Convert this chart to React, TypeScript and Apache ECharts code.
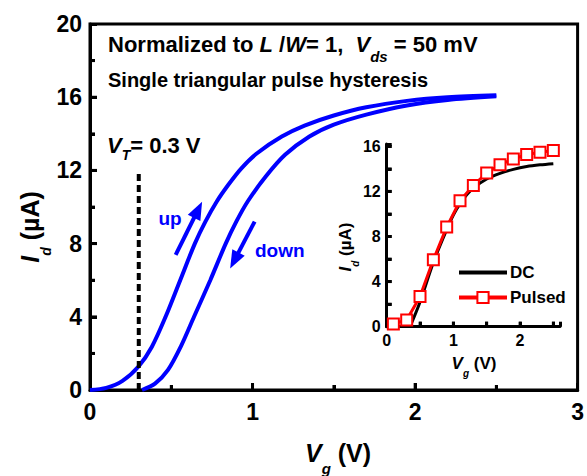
import React, { useEffect, useRef } from 'react';
import * as echarts from 'echarts';

// Main chart: single triangular pulse hysteresis (Vg in V, Id in uA)
const upVg = [0, 0.1, 0.2, 0.3, 0.38, 0.465, 0.555, 0.645, 0.71, 0.78, 0.85, 0.93, 1.03, 1.18, 1.32, 1.5, 1.7, 1.95, 2.2, 2.5];
const upId = [0, 0.12, 0.5, 1.3, 2.35, 4.0, 6.0, 8.0, 9.2, 10.3, 11.2, 12.1, 12.95, 13.85, 14.45, 15.0, 15.45, 15.8, 16.0, 16.1];
const downVg = [0.32, 0.4, 0.48, 0.56, 0.64, 0.74, 0.835, 0.9, 0.97, 1.08, 1.2, 1.35, 1.5, 1.7, 1.95, 2.2, 2.5];
const downId = [0, 0.35, 1.1, 2.4, 4.0, 6.0, 8.0, 9.2, 10.3, 11.65, 12.85, 13.85, 14.5, 15.05, 15.55, 15.85, 16.05];
const vtLine = [[0.3, 0], [0.3, 12]];
const upArrow = [[0.527, 7.38], [0.665, 9.85]];
const downArrow = [[1.013, 9.2], [0.888, 7.08]];

// Inset: DC vs pulsed
const dcVg = [0.35, 0.5, 0.7, 0.9, 1.0, 1.1, 1.2, 1.3, 1.5, 1.7, 1.9, 2.1, 2.3, 2.5];
const dcId = [0, 2.2, 5.7, 8.6, 9.9, 10.9, 11.7, 12.3, 13.1, 13.6, 13.95, 14.2, 14.35, 14.45];
const pulsedVg = [0.1, 0.3, 0.5, 0.7, 0.9, 1.1, 1.3, 1.5, 1.7, 1.9, 2.1, 2.3, 2.5];
const pulsedId = [0.25, 0.6, 2.67, 5.93, 8.83, 11.17, 12.53, 13.63, 14.37, 14.88, 15.26, 15.47, 15.62];

// Tick positions
const mainXMajor = [1, 2];
const mainXMinor = [0.5, 1.5, 2.5];
const mainYMajor = [4, 8, 12, 16];
const mainYMinor = [2, 6, 10, 14, 18];
const insetXTicks = [0.5, 1, 1.5, 2, 2.5];
const insetYTicks = [2, 4, 6, 8, 10, 12, 14, 16];

const FONT = 'Liberation Sans, Arial, Helvetica, sans-serif';
const BLUE = '#0000ff';
const RED = '#ff0000';

const zip = (a: number[], b: number[]) => a.map((v, i) => [v, b[i]]);

function tickSeries(values: number[], dir: 'x' | 'y', len: number, axisIdx: number) {
  return {
    type: 'scatter',
    xAxisIndex: axisIdx,
    yAxisIndex: axisIdx,
    data: values.map((v) => (dir === 'x' ? [v, 0] : [0, v])),
    symbol: 'rect',
    symbolSize: dir === 'x' ? [3, len] : [len, 3],
    symbolOffset: dir === 'x' ? [0, -len / 2] : [len / 2, 0],
    itemStyle: { color: '#000' },
    clip: false,
    silent: true,
    z: 6,
  };
}

function buildOption(): any {
  const mainTick = { show: true, inside: true, length: 7, lineStyle: { color: '#000', width: 3 } };
  const mainMinor = { show: true, splitNumber: 2, length: 5, lineStyle: { color: '#000', width: 3 } };
  const insetTick = { show: true, inside: true, length: 5, lineStyle: { color: '#000', width: 3 } };
  const axisLine = { show: true, onZero: false, lineStyle: { color: '#000', width: 3 } };
  const rich = (size: number, sub: number, lh: number) => ({
    n: { fontSize: size, fontWeight: 'bold', fontFamily: FONT, lineHeight: lh },
    i: { fontSize: size, fontWeight: 'bold', fontStyle: 'italic', fontFamily: FONT, lineHeight: lh },
    s: { fontSize: sub, fontWeight: 'bold', fontStyle: 'italic', fontFamily: FONT, lineHeight: sub, verticalAlign: 'bottom' },
  });
  const txt = (x: number, y: number, text: string, r: any, opts: any = {}) => ({
    type: 'text',
    x,
    y,
    rotation: opts.rotation || 0,
    style: {
      text,
      x: 0,
      y: 0,
      fill: opts.fill || '#000',
      align: opts.align || 'left',
      textAlign: opts.align || 'left',
      verticalAlign: 'middle',
      textVerticalAlign: 'middle',
      rich: r,
      font: `bold ${opts.size || 20}px ${FONT}`,
    },
  });
  const intLabel = (step: number) => (v: number) =>
    Math.abs(v / step - Math.round(v / step)) < 1e-6 ? String(Math.round(v)) : '';

  return {
    animation: false,
    grid: [
      { left: 90, right: 4, top: 24, bottom: 86, show: true, borderColor: '#000', borderWidth: 3 },
      { left: 386.7, right: 27, top: 144, bottom: 149.3 },
    ],
    xAxis: [
      {
        gridIndex: 0, type: 'value', min: 0, max: 3, interval: 1,
        axisLine, axisTick: mainTick, minorTick: mainMinor,
        splitLine: { show: false }, minorSplitLine: { show: false },
        axisLabel: { color: '#000', fontSize: 23, fontWeight: 'bold', fontFamily: FONT, margin: 10 },
      },
      {
        gridIndex: 1, type: 'value', min: 0, max: 2.6, interval: 0.5,
        axisLine, axisTick: insetTick, splitLine: { show: false },
        axisLabel: { color: '#000', fontSize: 16, fontWeight: 'bold', fontFamily: FONT, margin: 6, formatter: intLabel(1) },
      },
    ],
    yAxis: [
      {
        gridIndex: 0, type: 'value', min: 0, max: 20, interval: 4,
        axisLine, axisTick: mainTick, minorTick: mainMinor,
        splitLine: { show: false }, minorSplitLine: { show: false },
        axisLabel: { color: '#000', fontSize: 23, fontWeight: 'bold', fontFamily: FONT, margin: 8 },
      },
      {
        gridIndex: 1, type: 'value', min: 0, max: 16.2, interval: 2,
        axisLine, axisTick: insetTick, splitLine: { show: false },
        axisLabel: { color: '#000', fontSize: 16, fontWeight: 'bold', fontFamily: FONT, margin: 6, formatter: intLabel(4) },
      },
    ],
    legend: {
      data: [
        { name: 'DC', itemStyle: { opacity: 0 }, lineStyle: { width: 4, color: '#000' } },
        { name: 'Pulsed', lineStyle: { width: 4, color: RED } },
      ],
      left: 452,
      top: 259,
      orient: 'vertical',
      itemWidth: 48,
      itemHeight: 14,
      itemGap: 8,
      lineStyle: { width: 4 },
      textStyle: { color: '#000', fontSize: 17, fontWeight: 'bold', fontFamily: FONT, padding: [0, 0, 0, -2] },
      selectedMode: false,
    },
    series: [
      {
        name: 'up', type: 'line', xAxisIndex: 0, yAxisIndex: 0,
        data: zip(upVg, upId), smooth: 0.3, showSymbol: false, symbol: 'none',
        lineStyle: { color: BLUE, width: 4 }, itemStyle: { color: BLUE },
        markLine: {
          silent: true, symbol: ['none', 'triangle'], symbolSize: [14, 18],
          label: { show: false },
          lineStyle: { color: BLUE, width: 4, type: 'solid' },
          data: [[{ coord: upArrow[0] }, { coord: upArrow[1] }]],
        },
      },
      {
        name: 'down', type: 'line', xAxisIndex: 0, yAxisIndex: 0,
        data: zip(downVg, downId), smooth: 0.3, showSymbol: false, symbol: 'none',
        lineStyle: { color: BLUE, width: 4 }, itemStyle: { color: BLUE },
        markLine: {
          silent: true, symbol: ['none', 'triangle'], symbolSize: [14, 18],
          label: { show: false },
          lineStyle: { color: BLUE, width: 4, type: 'solid' },
          data: [[{ coord: downArrow[0] }, { coord: downArrow[1] }]],
        },
      },
      {
        name: 'VT', type: 'line', xAxisIndex: 0, yAxisIndex: 0,
        data: vtLine, showSymbol: false, symbol: 'none',
        lineStyle: { color: '#000', width: 4, type: [7, 4] },
      },
      {
        name: 'DC', type: 'line', xAxisIndex: 1, yAxisIndex: 1,
        data: zip(dcVg, dcId), smooth: 0.3, showSymbol: false, symbol: 'none',
        lineStyle: { color: '#000', width: 3 }, itemStyle: { color: '#000' },
      },
      {
        name: 'Pulsed', type: 'line', xAxisIndex: 1, yAxisIndex: 1,
        data: zip(pulsedVg, pulsedId), symbol: 'rect', symbolSize: 11, showSymbol: true,
        lineStyle: { color: RED, width: 3 },
        itemStyle: { color: '#fff', borderColor: RED, borderWidth: 2 },
      },
      tickSeries(mainXMajor, 'x', 7, 0),
      tickSeries(mainXMinor, 'x', 5, 0),
      tickSeries(mainYMajor, 'y', 7, 0),
      tickSeries(mainYMinor, 'y', 5, 0),
      tickSeries(insetXTicks, 'x', 5, 1),
      tickSeries(insetYTicks, 'y', 5, 1),
    ],
    graphic: [
      txt(108, 44, '{n|Normalized to }{i|L}{n| /}{i|W}{n|= 1,  }{i|V}{s|ds}{n| = 50 mV}', rich(22, 15, 40), { size: 22 }),
      txt(108, 80, '{n|Single triangular pulse hysteresis}', rich(20, 14, 30), { size: 20 }),
      txt(107, 145, '{i|V}{s|T}{n|= 0.3 V}', rich(22, 14, 34), { size: 22 }),
      txt(170, 218, '{n|up}', { n: { fontSize: 19, fontWeight: 'bold', fontFamily: FONT, color: BLUE } }, { size: 19, fill: BLUE, align: 'center' }),
      txt(255, 250, '{n|down}', { n: { fontSize: 19, fontWeight: 'bold', fontFamily: FONT, color: BLUE } }, { size: 19, fill: BLUE }),
      txt(30, 227, '{i|I}{s|d}{n| (\u00b5A)}', rich(25, 14, 46), { size: 25, align: 'center', rotation: Math.PI / 2 }),
      txt(338, 453, '{i|V}{s|g}{n| (V)}', rich(25, 15, 46), { size: 25, align: 'center' }),
      txt(345, 247, '{i|I}{s|d}{n| (\u00b5A)}', rich(17, 10, 30), { size: 17, align: 'center', rotation: Math.PI / 2 }),
      txt(474, 363, '{i|V}{s|g}{n| (V)}', rich(17, 10, 30), { size: 17, align: 'center' }),
    ],
  };
}

export default function App() {
  const ref = useRef<HTMLDivElement>(null);
  useEffect(() => {
    const chart = echarts.init(ref.current!, null, { renderer: 'svg' });
    chart.setOption(buildOption());
    return () => chart.dispose();
  }, []);
  return (
    <div
      ref={ref}
      style={{ position: 'fixed', left: 0, top: 0, width: 587, height: 476, background: '#fff' }}
    />
  );
}
